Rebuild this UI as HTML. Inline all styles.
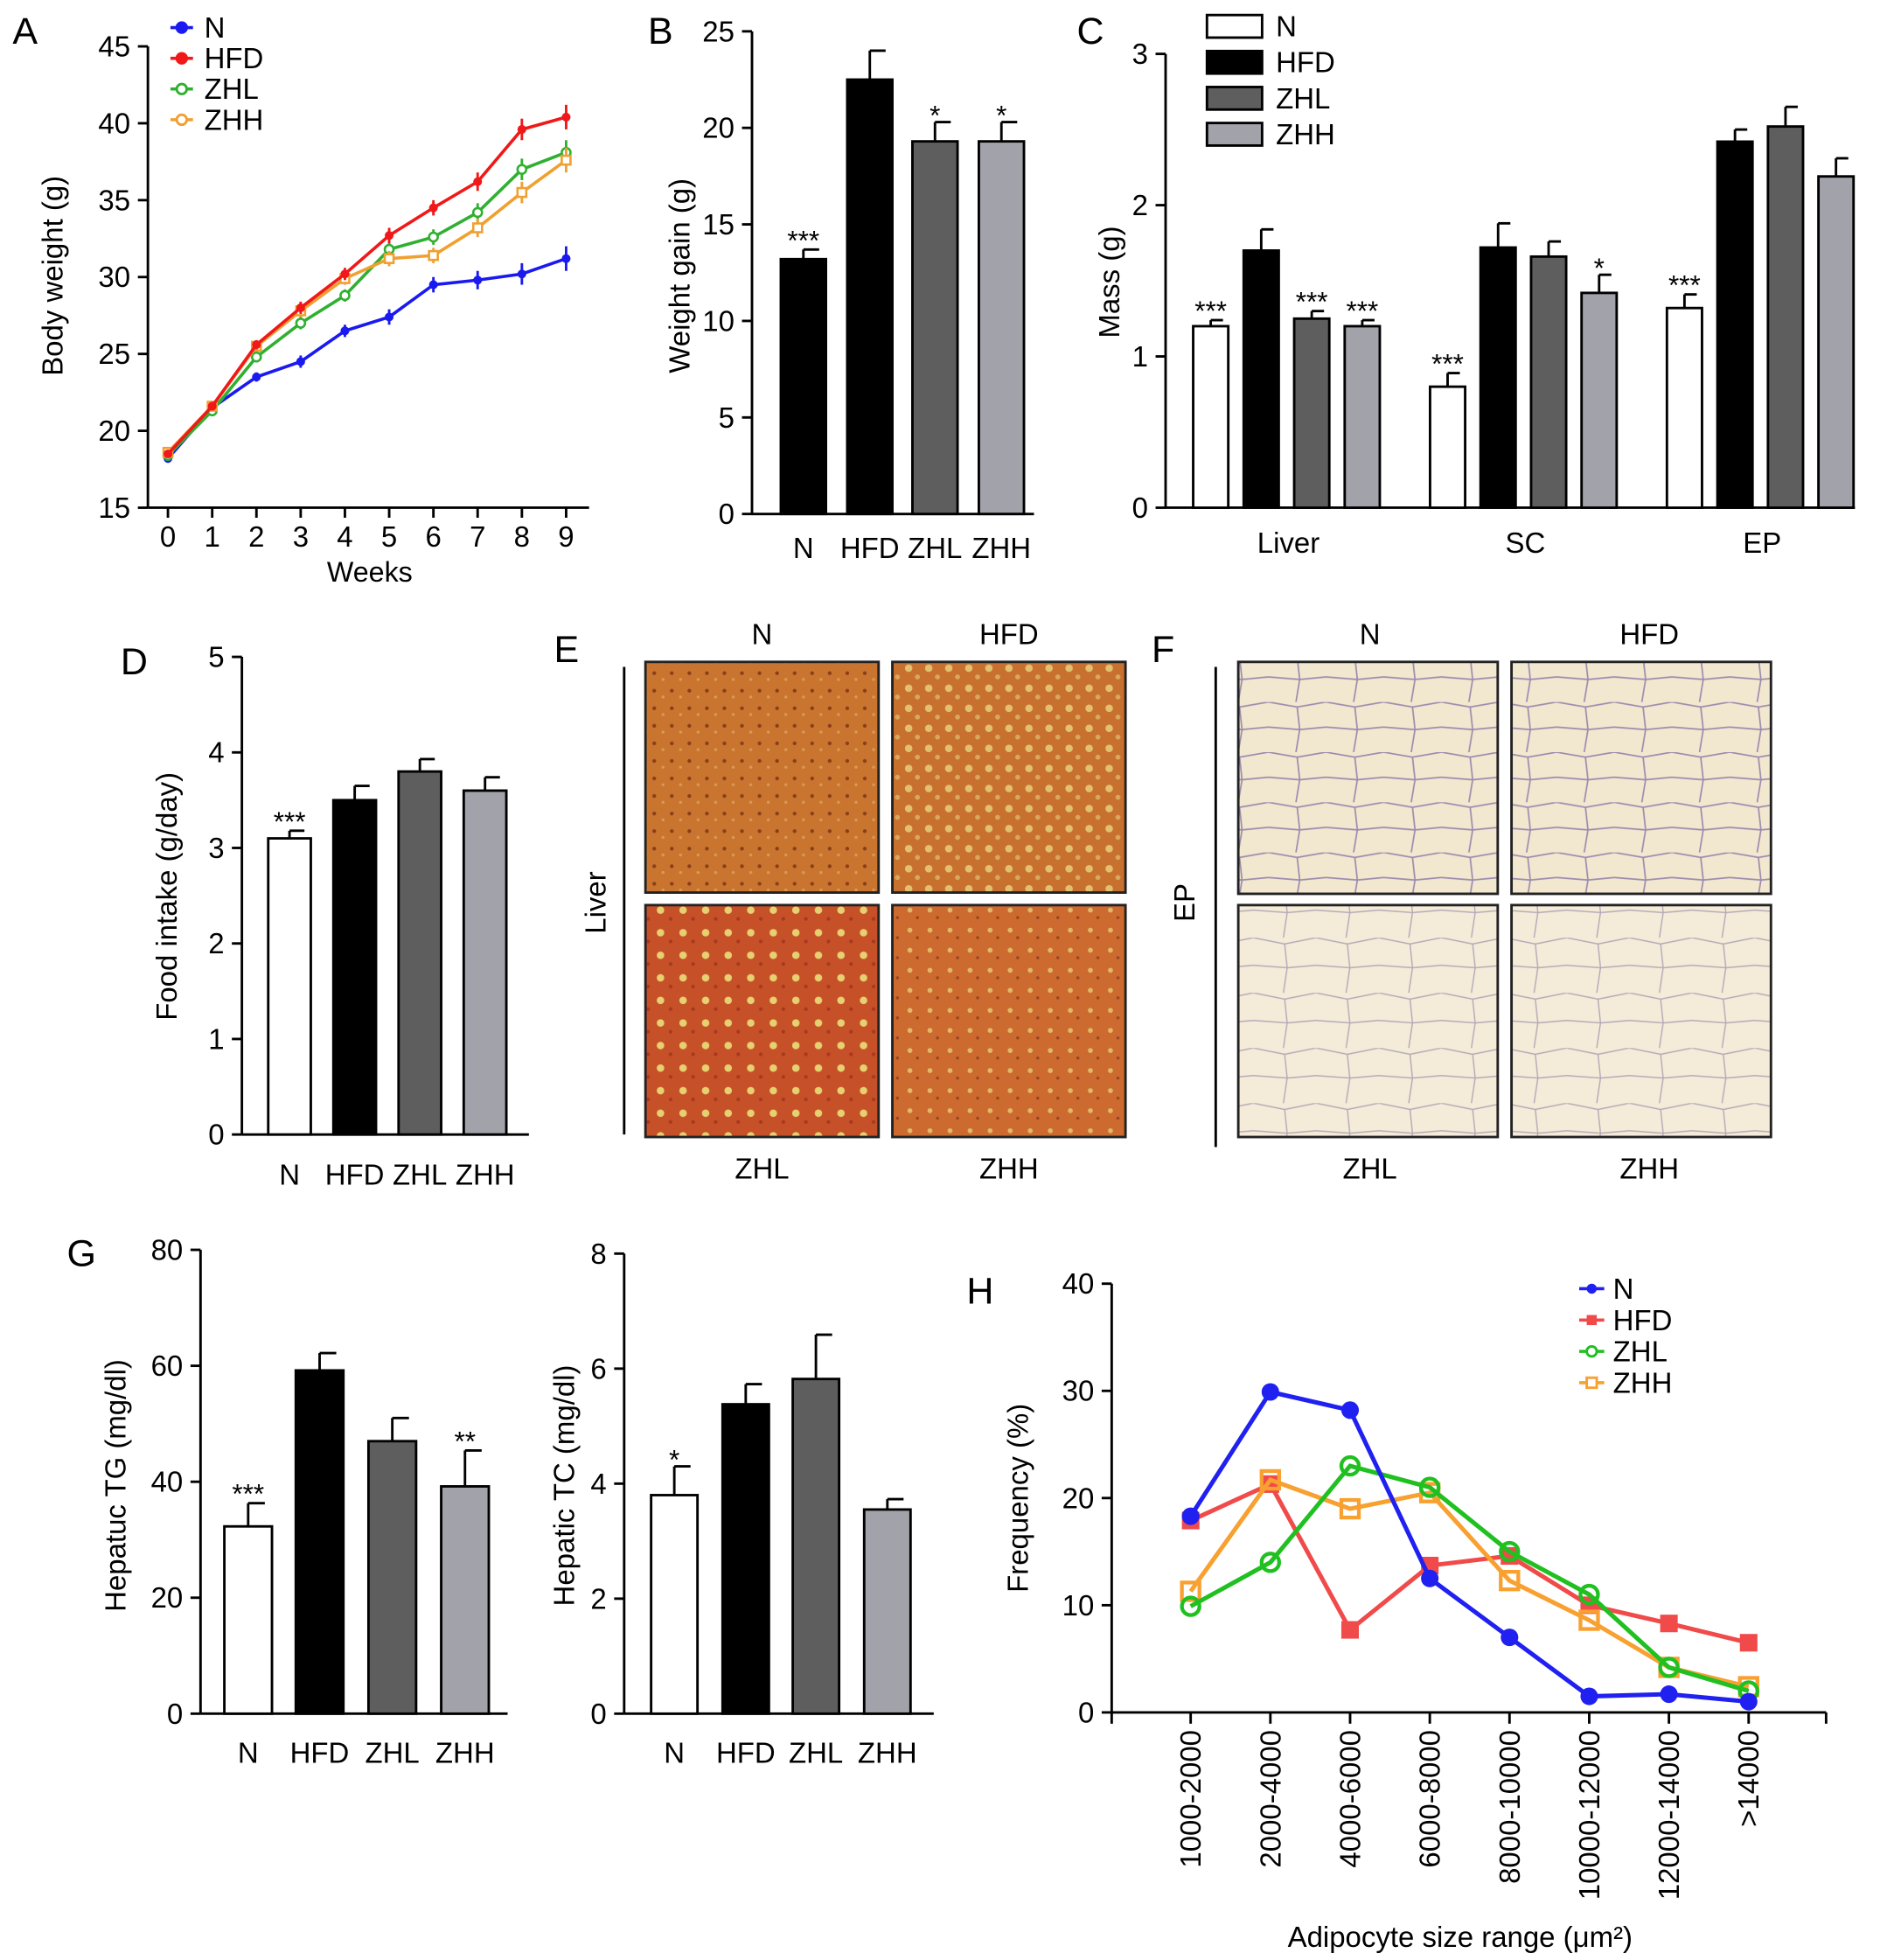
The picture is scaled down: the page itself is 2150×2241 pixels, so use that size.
<!DOCTYPE html>
<html><head><meta charset="utf-8"><style>
html,body{margin:0;padding:0;background:#fff}
svg{display:block}
text{font-family:"Liberation Sans",sans-serif;fill:#000}
</style></head><body>
<svg id="fig" width="2150" height="2241" viewBox="0 0 1500 1563.5" xmlns="http://www.w3.org/2000/svg">
<defs>
<pattern id="liverN" width="14" height="14" patternUnits="userSpaceOnUse"><rect width="14" height="14" fill="#c9752f"/><circle cx="4" cy="5" r="1.5" fill="#8a3d1a"/><circle cx="11" cy="10" r="1.2" fill="#d99a55"/></pattern>
<pattern id="liverF" width="16" height="16" patternUnits="userSpaceOnUse"><rect width="16" height="16" fill="#c8702e"/><circle cx="5" cy="5" r="3" fill="#e2c070"/><circle cx="12" cy="12" r="2" fill="#d8a860"/></pattern>
<pattern id="liverL" width="18" height="18" patternUnits="userSpaceOnUse"><rect width="18" height="18" fill="#c65028"/><circle cx="5" cy="6" r="3" fill="#e6d070"/><circle cx="13" cy="13" r="1.5" fill="#a83820"/></pattern>
<pattern id="liverH" width="16" height="16" patternUnits="userSpaceOnUse"><rect width="16" height="16" fill="#cc6a30"/><circle cx="6" cy="6" r="2" fill="#e0b868"/><circle cx="12" cy="12" r="1.2" fill="#9a4420"/></pattern>
<pattern id="fat" width="46" height="40" patternUnits="userSpaceOnUse"><rect width="46" height="40" fill="#f2e8d0"/><path d="M0 0 L23 4 L46 0 M23 4 L25 22 L0 20 M25 22 L46 20 M25 22 L22 40" stroke="#9c8cae" stroke-width="1.2" fill="none"/></pattern>
<pattern id="fat2" width="50" height="44" patternUnits="userSpaceOnUse"><rect width="50" height="44" fill="#f4ecd8"/><path d="M0 0 L25 5 L50 0 M25 5 L27 24 L0 22 M27 24 L50 22 M27 24 L24 44" stroke="#b4aab8" stroke-width="1" fill="none"/></pattern>
</defs>
</svg>
<script>
// ---------- data ----------
const weeks=[0,1,2,3,4,5,6,7,8,9];
const bwN=[18.2,21.5,23.5,24.5,26.5,27.4,29.5,29.8,30.2,31.2];
const bwHFD=[18.5,21.6,25.6,28,30.2,32.7,34.5,36.2,39.6,40.4];
const bwZHL=[18.4,21.3,24.8,27,28.8,31.8,32.6,34.2,37,38.1];
const bwZHH=[18.6,21.6,25.5,27.8,29.9,31.2,31.4,33.2,35.5,37.6];
const bwErr=[0.2,0.2,0.3,0.4,0.4,0.5,0.5,0.6,0.7,0.8];
const groups=["N","HFD","ZHL","ZHH"];
const gainVals=[13.2,22.5,19.3,19.3];
const gainErr=[0.5,1.5,1.0,1.0];
const gainStars=["***","","*","*"];
const tissues=["Liver","SC","EP"];
const massN=[1.2,0.8,1.32];
const massHFD=[1.7,1.72,2.42];
const massZHL=[1.25,1.66,2.52];
const massZHH=[1.2,1.42,2.19];
const massErrN=[0.04,0.09,0.09];
const massErrHFD=[0.14,0.16,0.08];
const massErrZHL=[0.05,0.1,0.13];
const massErrZHH=[0.04,0.12,0.12];
const massStarsN=["***","***","***"];
const massStarsHFD=["","",""];
const massStarsZHL=["***","",""];
const massStarsZHH=["***","*",""];
const foodVals=[3.1,3.5,3.8,3.6];
const foodErr=[0.08,0.15,0.13,0.14];
const foodStars=["***","","",""];
const tgVals=[32.3,59.2,47,39.2];
const tgErr=[4,3,4,6.2];
const tgStars=["***","","","**"];
const tcVals=[3.8,5.38,5.82,3.55];
const tcErr=[0.5,0.35,0.77,0.18];
const tcStars=["*","","",""];
const sizeCats=["1000-2000","2000-4000","4000-6000","6000-8000","8000-10000","10000-12000","12000-14000",">14000"];
const frN=[18.3,29.9,28.2,12.5,7,1.5,1.7,1];
const frHFD=[17.9,21.3,7.7,13.7,14.6,10,8.3,6.5];
const frZHL=[9.9,14,23,21,15,11,4.2,2];
const frZHH=[11.3,21.7,19,20.5,12.3,8.6,4.2,2.4];

const svg=document.getElementById('fig');
const NS='http://www.w3.org/2000/svg';
const FS=23;
function mk(tag,a,parent){const e=document.createElementNS(NS,tag);for(const k in a)e.setAttribute(k,a[k]);(parent||svg).appendChild(e);return e;}
function txt(x,y,s,size,anchor,rot,name){const e=mk('text',{x:x,y:y,'font-size':size,'text-anchor':anchor||'middle'});if(rot)e.setAttribute('transform','rotate('+rot+' '+x+' '+y+')');e.textContent=s;


return e;}
function line(x1,y1,x2,y2,w,c,name){const e=mk('line',{x1:x1,y1:y1,x2:x2,y2:y2,stroke:c||'#000','stroke-width':w||2});


return e;}
function yAxis(x,y0,y1,vmin,vmax,step,name,fs){const sc=v=>y0-(v-vmin)/(vmax-vmin)*(y0-y1);
line(x,y0,x,y1,2,'#000',name+'-y-axis');
for(let v=vmin;v<=vmax+1e-9;v+=step){const y=sc(v);line(x-8,y,x,y,2,'#000',name+'-y-tick');txt(x-14,y+8,String(Math.round(v*100)/100),fs||FS,'end',0,name+'-y-tick-label');}
return sc;}
const C={N:'#fff',HFD:'#000',ZHL:'#5e5e5e',ZHH:'#a2a2aa'};
function bar(cx,w,v,err,sc,fill,star,name){const y=sc(v),y0=sc(0),ye=sc(v+err);
line(cx,y,cx,ye,2,'#000',name+'-error-bar');line(cx,ye,cx+w*0.35,ye,2,'#000',name+'-error-cap');
const r=mk('rect',{x:cx-w/2,y:y,width:w,height:y0-y,fill:fill,stroke:'#000','stroke-width':2});


if(star){const t=txt(cx,ye-4+(star.length>1?4:6),star,22,'middle',0,name+'-significance');t.setAttribute('fill','#555');}}

// ---------- Panel A ----------
txt(20,35,'A',30,'middle',0,'panel-a-letter');
const aY=yAxis(118,405,37,15,45,5,'panel-a');
const aX=w=>134+w*35.3;
line(118,405,470,405,2,'#000','panel-a-x-axis');
weeks.forEach(w=>{line(aX(w),405,aX(w),413,2,'#000','panel-a-x-tick');txt(aX(w),436,String(w),FS,'middle',0,'panel-a-x-tick-label');});
txt(295,464,'Weeks',22.5,'middle',0,'panel-a-x-axis-title');
txt(50,220,'Body weight (g)',FS,'middle',-90,'panel-a-y-axis-title');
[[bwN,'#1a1af0','N','square'],[bwZHL,'#30b030','ZHL','circ'],[bwZHH,'#f0a030','ZHH','osq'],[bwHFD,'#f01818','HFD','fsq']].forEach(([d,c,n,m])=>{
 const p=mk('polyline',{points:weeks.map(w=>aX(w)+','+aY(d[w])).join(' '),fill:'none',stroke:c,'stroke-width':2.5});
 
 
 weeks.forEach(w=>{const x=aX(w),y=aY(d[w]);line(x,aY(d[w]-bwErr[w]),x,aY(d[w]+bwErr[w]),2,c,'error-bar-'+n.toLowerCase());
  const pt=(m==='circ')?mk('circle',{cx:x,cy:y,r:3.5,fill:'#fff',stroke:c,'stroke-width':1.8}):(m==='osq'?mk('rect',{x:x-3.5,y:y-3.5,width:7,height:7,fill:'#fff',stroke:c,'stroke-width':1.8}):mk('circle',{cx:x,cy:y,r:3.5,fill:c}));
  
  });
});
[['N','#1a1af0'],['HFD','#f01818'],['ZHL','#30b030'],['ZHH','#f0a030']].forEach(([n,c],i)=>{const y=22+i*24.5;line(136,y,154,y,2.5,c,'legend-line-'+n.toLowerCase());
 const pt=mk('circle',{cx:145,cy:y,r:4,fill:(n==='N'||n==='HFD')?c:'#fff',stroke:c,'stroke-width':2});
 
 
 txt(163,y+8,n,FS,'start',0,'legend-entry-'+n.toLowerCase());});

// ---------- Panel B ----------
txt(527,35,'B',30,'middle',0,'panel-b-letter');
const bY=yAxis(600,410,25,0,25,5,'panel-b');
line(600,410,825,410,2,'#000','panel-b-x-axis');
const bCx=[641,694,746,799];
groups.forEach((g,i)=>{bar(bCx[i],36,gainVals[i],gainErr[i],bY,g==='N'?'#000':C[g],gainStars[i],'bar-gain-'+g.toLowerCase());txt(bCx[i],445,g,FS,'middle',0,'panel-b-x-label');});
txt(550,220,'Weight gain (g)',FS,'middle',-90,'panel-b-y-axis-title');

// ---------- Panel C ----------
txt(870,35,'C',30,'middle',0,'panel-c-letter');
const cY=yAxis(930,405,43,0,3,1,'panel-c');
line(930,405,1480,405,2,'#000','panel-c-x-axis');
const gStart=[966,1155,1344];
const cSeries=[[massN,massErrN,massStarsN,'N'],[massHFD,massErrHFD,massStarsHFD,'HFD'],[massZHL,massErrZHL,massStarsZHL,'ZHL'],[massZHH,massErrZHH,massStarsZHH,'ZHH']];
tissues.forEach((t,ti)=>{cSeries.forEach(([v,e,s,g],gi)=>bar(gStart[ti]+gi*40.3,28,v[ti],e[ti],cY,C[g],s[ti],'bar-mass-'+t.toLowerCase()+'-'+g.toLowerCase()));
 txt(gStart[ti]+62,441,t,FS,'middle',0,'panel-c-x-label');});
txt(893,225,'Mass (g)',FS,'middle',-90,'panel-c-y-axis-title');
groups.forEach((g,i)=>{const y=12+i*28.7;const r=mk('rect',{x:963,y:y,width:44,height:18,fill:C[g],stroke:'#000','stroke-width':2});
 
 
 txt(1018,y+17,g,FS,'start',0,'legend-entry-'+g.toLowerCase());});

// ---------- Panel D ----------
txt(107,538,'D',30,'middle',0,'panel-d-letter');
const dY=yAxis(193,905,524,0,5,1,'panel-d');
line(193,905,422,905,2,'#000','panel-d-x-axis');
const dCx=[231,283,335,387];
groups.forEach((g,i)=>{bar(dCx[i],34,foodVals[i],foodErr[i],dY,C[g],foodStars[i],'bar-food-'+g.toLowerCase());txt(dCx[i],945,g,FS,'middle',0,'panel-d-x-label');});
txt(141,715,'Food intake (g/day)',FS,'middle',-90,'panel-d-y-axis-title');

// ---------- Panel E / F (micrographs) ----------
function img(x,y,w,h,fill,name){const r=mk('rect',{x:x,y:y,width:w,height:h,fill:fill,stroke:'#222','stroke-width':2});
 
 }
txt(452,528,'E',30,'middle',0,'panel-e-letter');
img(515,528,186,184,'url(#liverN)','liver-image-n');img(712,528,186,184,'url(#liverF)','liver-image-hfd');
img(515,722,186,185,'url(#liverL)','liver-image-zhl');img(712,722,186,185,'url(#liverH)','liver-image-zhh');
line(498,532,498,905,2,'#000','panel-e-divider');
txt(483,720,'Liver',FS,'middle',-90,'panel-e-row-label');
txt(608,514,'N',FS,'middle',0,'panel-e-label');txt(805,514,'HFD',FS,'middle',0,'panel-e-label');
txt(608,940,'ZHL',FS,'middle',0,'panel-e-label');txt(805,940,'ZHH',FS,'middle',0,'panel-e-label');
txt(928,528,'F',30,'middle',0,'panel-f-letter');
img(988,528,207,185,'url(#fat)','ep-image-n');img(1206,528,207,185,'url(#fat)','ep-image-hfd');
img(988,722,207,185,'url(#fat2)','ep-image-zhl');img(1206,722,207,185,'url(#fat2)','ep-image-zhh');
line(970,532,970,915,2,'#000','panel-f-divider');
txt(953,720,'EP',FS,'middle',-90,'panel-f-row-label');
txt(1093,514,'N',FS,'middle',0,'panel-f-label');txt(1316,514,'HFD',FS,'middle',0,'panel-f-label');
txt(1093,940,'ZHL',FS,'middle',0,'panel-f-label');txt(1316,940,'ZHH',FS,'middle',0,'panel-f-label');

// ---------- Panel G ----------
txt(65,1010,'G',30,'middle',0,'panel-g-letter');
const tgY=yAxis(160,1367,997,0,80,20,'panel-g-tg');
line(160,1367,405,1367,2,'#000','panel-g-tg-x-axis');
const tgCx=[198,255,313,371];
groups.forEach((g,i)=>{bar(tgCx[i],38,tgVals[i],tgErr[i],tgY,C[g],tgStars[i],'bar-tg-'+g.toLowerCase());txt(tgCx[i],1406,g,FS,'middle',0,'panel-g-x-label');});
txt(100,1185,'Hepatuc TG (mg/dl)',FS,'middle',-90,'panel-g-tg-y-axis-title');
const tcY=yAxis(498,1367,1000,0,8,2,'panel-g-tc');
line(498,1367,745,1367,2,'#000','panel-g-tc-x-axis');
const tcCx=[538,595,651,708];
groups.forEach((g,i)=>{bar(tcCx[i],37,tcVals[i],tcErr[i],tcY,C[g],tcStars[i],'bar-tc-'+g.toLowerCase());txt(tcCx[i],1406,g,FS,'middle',0,'panel-g-x-label');});
txt(458,1185,'Hepatic TC (mg/dl)',FS,'middle',-90,'panel-g-tc-y-axis-title');

// ---------- Panel H ----------
txt(782,1040,'H',30,'middle',0,'panel-h-letter');
const hY=yAxis(887,1366,1024,0,40,10,'panel-h');
line(887,1366,1457,1366,2,'#000','panel-h-x-axis');
const hX=i=>950+i*63.6;
line(887,1366,887,1375,2,'#000','panel-h-x-tick');line(1457,1366,1457,1375,2,'#000','panel-h-x-tick');
sizeCats.forEach((c,i)=>{line(hX(i),1366,hX(i),1375,2,'#000','panel-h-x-tick');txt(hX(i)+8,1380,c,FS,'end',-90,'panel-h-x-tick-label');});
txt(1165,1553,'Adipocyte size range (\u03bcm\u00b2)',FS,'middle',0,'panel-h-x-axis-title');
txt(820,1195,'Frequency (%)',FS,'middle',-90,'panel-h-y-axis-title');
const hSer=[[frHFD,'#f04a4a','HFD','fsq'],[frZHH,'#f8a030','ZHH','osq'],[frZHL,'#20c020','ZHL','oc'],[frN,'#2020f0','N','fc']];
function hMark(x,y,c,m,name){let e;if(m==='fc')e=mk('circle',{cx:x,cy:y,r:7,fill:c});else if(m==='oc')e=mk('circle',{cx:x,cy:y,r:7,fill:'none',stroke:c,'stroke-width':3});else if(m==='fsq')e=mk('rect',{x:x-7,y:y-7,width:14,height:14,fill:c});else e=mk('rect',{x:x-7,y:y-7,width:14,height:14,fill:'none',stroke:c,'stroke-width':3});
 
 }
hSer.forEach(([d,c,n,m])=>{const p=mk('polyline',{points:d.map((v,i)=>hX(i)+','+hY(v)).join(' '),fill:'none',stroke:c,'stroke-width':3.5});
 
 
 d.forEach((v,i)=>hMark(hX(i),hY(v),c,m,'freq-point-'+n.toLowerCase()));});
[['N','#2020f0','fc'],['HFD','#f04a4a','fsq'],['ZHL','#20c020','oc'],['ZHH','#f8a030','osq']].forEach(([n,c,m],i)=>{const y=1028+i*25;line(1260,y,1280,y,2.5,c,'legend-line-'+n.toLowerCase());
 const e=(m==='fc')?mk('circle',{cx:1270,cy:y,r:4,fill:c}):(m==='oc'?mk('circle',{cx:1270,cy:y,r:4,fill:'#fff',stroke:c,'stroke-width':2}):(m==='fsq'?mk('rect',{x:1266,y:y-4,width:8,height:8,fill:c}):mk('rect',{x:1266,y:y-4,width:8,height:8,fill:'#fff',stroke:c,'stroke-width':2})));
 
 
 txt(1287,y+8,n,FS,'start',0,'legend-entry-'+n.toLowerCase());});
</script>
</body></html>
